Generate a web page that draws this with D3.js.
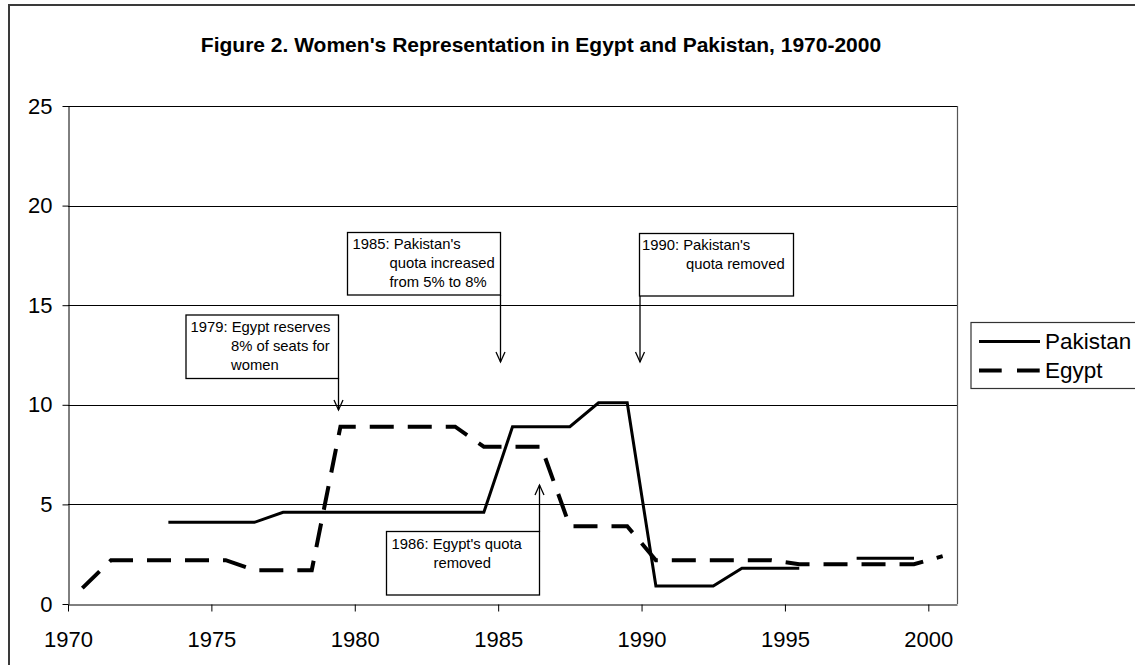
<!DOCTYPE html>
<html><head><meta charset="utf-8">
<script src="https://cdn.jsdelivr.net/npm/d3@7"></script>
<style>
body{margin:0;background:#fff}
svg{display:block}
text{font-family:"Liberation Sans",Arial,sans-serif;fill:#000}
</style>
</head><body>
<svg id="c" width="1135" height="665"></svg>
<script>
// ---- data ----
const years = [1970,1971,1972,1973,1974,1975,1976,1977,1978,1979,1980,1981,1982,1983,1984,1985,
               1986,1987,1988,1989,1990,1991,1992,1993,1994,1995,1996,1997,1998,1999,2000];
const xTickYears = [1970,1975,1980,1985,1990,1995,2000];
const yTickValues = [0,5,10,15,20,25];
const seriesNames = ["Pakistan","Egypt"];
const pakistan = [null,null,null,4.1,4.1,4.1,4.1,4.6,4.6,4.6,4.6,4.6,4.6,4.6,4.6,8.9,
                  8.9,8.9,10.1,10.1,0.9,0.9,0.9,1.8,1.8,1.8,null,2.3,2.3,2.3,null];
const egypt = [0.8,2.2,2.2,2.2,2.2,2.2,1.7,1.7,1.7,8.9,8.9,8.9,8.9,8.9,7.9,7.9,
               7.9,3.9,3.9,3.9,2.2,2.2,2.2,2.2,2.2,2.0,2.0,2.0,2.0,2.0,2.4];
const titleText = "Figure 2. Women's Representation in Egypt and Pakistan, 1970-2000";
const annotationTexts = [
  ["1979: Egypt reserves","8% of seats for","women"],
  ["1985: Pakistan's","quota increased","from 5% to 8%"],
  ["1990: Pakistan's","quota removed"],
  ["1986: Egypt's quota","removed"]
];

// ---- layout (pixels) ----
const plot = {left:68, right:957, top:106, bottom:604};
const annLayout = [
  {box:[186,315,338.5,378.5], tx:[190.5,231,231], by:331.5, arrow:{x:338.5,y1:378.5,y2:410}},
  {box:[347.5,232.5,500.5,295], tx:[352.5,389.5,389.5], by:249, arrow:{x:500.5,y1:295,y2:362}},
  {box:[639.5,233.5,793.5,296], tx:[642,686], by:250, arrow:{x:640,y1:296,y2:362}},
  {box:[386.5,531.5,539.5,595], tx:[391.5,433.5], by:548.5, arrow:{x:539.5,y1:531.5,y2:485}}
];

const svg = d3.select("#c");
svg.append("rect").attr("width",1135).attr("height",665).attr("fill","#fff");
// outer frame
svg.append("rect").attr("x",9).attr("y",5).attr("width",1140).attr("height",670)
  .attr("fill","none").attr("stroke","#3a3a3a").attr("stroke-width",2);

const x = d3.scaleBand().domain(years).range([plot.left,plot.right]).padding(0);
const cx = yr => x(yr) + x.bandwidth()/2;
const xTick = d3.scaleLinear().domain([years[0], years[years.length-1]+1]).range([plot.left,plot.right]);
const y = d3.scaleLinear().domain([0,25]).range([plot.bottom,plot.top]);

// title
svg.append("text").attr("x",541).attr("y",52).attr("text-anchor","middle")
  .attr("font-size",21).attr("font-weight","bold").text(titleText);

// gridlines
svg.append("g").selectAll("line").data(yTickValues.filter(v=>v>0)).join("line")
  .attr("x1",plot.left).attr("x2",plot.right)
  .attr("y1",d=>Math.round(y(d))+0.5).attr("y2",d=>Math.round(y(d))+0.5)
  .attr("stroke","#000").attr("stroke-width",1);
// plot right border
svg.append("line").attr("x1",plot.right+0.5).attr("x2",plot.right+0.5)
  .attr("y1",plot.top).attr("y2",plot.bottom).attr("stroke","#555").attr("stroke-width",1.2);

// y axis
const yAxis = svg.append("g").attr("transform",`translate(${plot.left+0.5},0)`)
  .call(d3.axisLeft(y).tickValues(yTickValues).tickSize(6).tickSizeOuter(0).tickPadding(10).tickFormat(d3.format("d")));
yAxis.selectAll("text").attr("font-size",22).attr("font-family",null);
yAxis.selectAll("line,path").attr("stroke","#000");

// x axis
const xAxis = svg.append("g").attr("transform",`translate(0,${plot.bottom+0.5})`)
  .call(d3.axisBottom(xTick).tickValues(xTickYears).tickSize(7).tickSizeOuter(0).tickPadding(20).tickFormat(d3.format("d")));
xAxis.selectAll("text").attr("font-size",22).attr("font-family",null);
xAxis.selectAll("line,path").attr("stroke","#000");

// lines
const line = d3.line().defined(d=>d.v!=null).x(d=>cx(d.year)).y(d=>y(d.v));
const pakData = years.map((yr,i)=>({year:yr, v:pakistan[i]}));
const egyData = years.map((yr,i)=>({year:yr, v:egypt[i]}));
svg.append("path").datum(egyData).attr("d",line).attr("fill","none")
  .attr("stroke","#000").attr("stroke-width",4).attr("stroke-dasharray","24,14");
svg.append("path").datum(pakData).attr("d",line).attr("fill","none")
  .attr("stroke","#000").attr("stroke-width",3).attr("stroke-linejoin","miter");

// annotations
annotationTexts.forEach((lines,i)=>{
  const L = annLayout[i];
  const g = svg.append("g");
  const [x0,y0,x1,y1] = L.box;
  g.append("rect").attr("x",x0).attr("y",y0).attr("width",x1-x0).attr("height",y1-y0)
    .attr("fill","#fff").attr("stroke","#000").attr("stroke-width",1.3);
  lines.forEach((t,j)=>{
    g.append("text").attr("x",L.tx[j]).attr("y",L.by+19*j).attr("font-size",14.8).text(t);
  });
  const a = L.arrow;
  const dir = a.y2 > a.y1 ? 1 : -1;
  g.append("line").attr("x1",a.x).attr("x2",a.x).attr("y1",a.y1).attr("y2",a.y2)
    .attr("stroke","#000").attr("stroke-width",1.3);
  g.append("path").attr("d",`M${a.x-4.5},${a.y2-dir*10}L${a.x},${a.y2}L${a.x+4.5},${a.y2-dir*10}`)
    .attr("fill","none").attr("stroke","#000").attr("stroke-width",1.3);
});

// legend
const lg = svg.append("g");
lg.append("rect").attr("x",971).attr("y",322.5).attr("width",200).attr("height",66)
  .attr("fill","#fff").attr("stroke","#333").attr("stroke-width",1.2);
const legendRows = [
  {name:seriesNames[0], y:341.5, w:3, dash:null},
  {name:seriesNames[1], y:370.5, w:4, dash:"22.7,15.3"}
];
legendRows.forEach(r=>{
  lg.append("line").attr("x1",979).attr("x2",1040).attr("y1",r.y).attr("y2",r.y)
    .attr("stroke","#000").attr("stroke-width",r.w).attr("stroke-dasharray",r.dash);
  lg.append("text").attr("x",1045).attr("y",r.y+7.5).attr("font-size",22.5).text(r.name);
});
</script>
</body></html>
